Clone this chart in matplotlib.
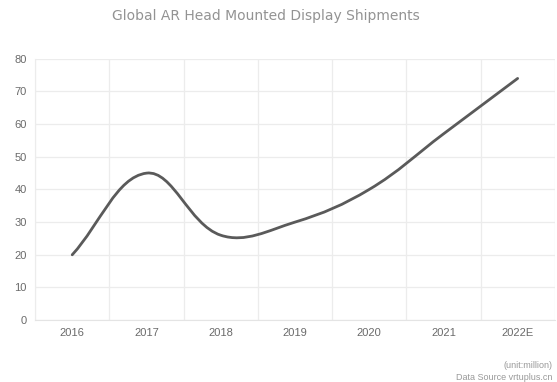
import numpy as np
import matplotlib
matplotlib.use("Agg")
import matplotlib.pyplot as plt
from matplotlib.path import Path
from matplotlib.patches import PathPatch

years = ["2016", "2017", "2018", "2019", "2020", "2021", "2022E"]
shipments = [20, 45, 26, 30, 40, 57, 74]
y_ticks = [0, 10, 20, 30, 40, 50, 60, 70, 80]

plt.rcParams["font.family"] = ["Liberation Sans", "DejaVu Sans"]

fig = plt.figure(figsize=(5.57, 3.82), dpi=100)
ax = fig.add_axes([0.063, 0.162, 0.933, 0.684])

x = np.arange(len(years), dtype=float)
y = np.array(shipments, dtype=float)

ax.set_xlim(-0.5, len(years) - 0.5)
ax.set_ylim(0, 80)

# Smooth curve: cubic Bezier segments with control points from neighbours,
# computed in an aspect-corrected space so the bends look even on screen.
sx, sy = 74.4, 3.26
px, py = x * sx, y * sy
smooth = 0.38
cps = []
n = len(px)
for i in range(n):
    prv = max(i - 1, 0)
    nxt = min(i + 1, n - 1)
    vx, vy = px[nxt] - px[prv], py[nxt] - py[prv]
    d0 = np.hypot(px[i] - px[prv], py[i] - py[prv])
    d1 = np.hypot(px[nxt] - px[i], py[nxt] - py[i])
    tot = d0 + d1 if d0 + d1 > 0 else 1.0
    r0, r1 = d0 / tot, d1 / tot
    cin = (px[i] - vx * smooth * r0, py[i] - vy * smooth * r0)
    cout = (px[i] + vx * smooth * r1, py[i] + vy * smooth * r1)
    cps.append((cin, cout))

verts = [(x[0], y[0])]
codes = [Path.MOVETO]
for i in range(n - 1):
    c1 = cps[i][1]
    c2 = cps[i + 1][0]
    verts += [(c1[0] / sx, c1[1] / sy), (c2[0] / sx, c2[1] / sy), (x[i + 1], y[i + 1])]
    codes += [Path.CURVE4] * 3
patch = PathPatch(Path(verts, codes), facecolor="none", edgecolor="#5a5a5a",
                  lw=2.0, capstyle="round", joinstyle="round", zorder=3)
ax.add_patch(patch)

ax.set_xticks(x)
ax.set_xticklabels(years)
ax.set_xticks(np.arange(-0.5, len(years), 1.0), minor=True)
ax.set_yticks(y_ticks)
ax.grid(True, which="minor", axis="x", color="#ececec", lw=0.9)
ax.grid(True, which="major", axis="y", color="#ececec", lw=0.9)
ax.set_axisbelow(True)

for s in ax.spines.values():
    s.set_visible(False)
ax.spines["bottom"].set_visible(True)
ax.spines["bottom"].set_color("#e4e4e4")
ax.spines["left"].set_visible(True)
ax.spines["left"].set_color("#ececec")

ax.tick_params(axis="both", which="both", length=0, labelsize=8, labelcolor="#6a6a6a")
ax.tick_params(axis="x", pad=6)
ax.tick_params(axis="y", pad=6)

fig.text(0.478, 0.957, "Global AR Head Mounted Display Shipments", ha="center", va="center",
         fontsize=10, color="#939393", family=["DejaVu Sans"])
fig.text(0.992, 0.043, "(unit:million)", ha="right", va="center", fontsize=6.5, color="#999999")
fig.text(0.992, 0.001, "Data Source vrtuplus.cn", ha="right", va="bottom", fontsize=6.5, color="#999999")

fig.savefig("out.png", dpi=100)
